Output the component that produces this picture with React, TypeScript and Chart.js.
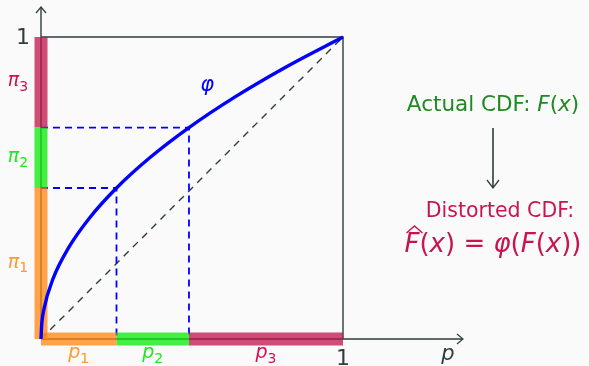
import { useEffect, useRef } from "react";
import { Chart, registerables } from "chart.js";

Chart.register(...registerables);

// Cumulative breakpoints of the probabilities p1, p2, p3 on the horizontal axis
const P_BREAKS = [0, 0.25, 0.49, 1];
// Cumulative breakpoints of the distorted weights π1, π2, π3 on the vertical axis
const PI_BREAKS = [0, 0.5, 0.7, 1];
const SEGMENT_SUBS = ["1", "2", "3"];

// Distortion function φ sampled along its curve
const PHI_X = [0, 0.0025, 0.01, 0.04, 0.09, 0.16, 0.25, 0.36, 0.49, 0.64, 0.81, 1];
const PHI_Y = [0, 0.05, 0.1, 0.2, 0.3, 0.4, 0.5, 0.6, 0.7, 0.8, 0.9, 1];

const SEGMENT_COLORS = [
  "rgba(255,133,15,0.75)",
  "rgba(8,234,8,0.75)",
  "rgba(189,19,75,0.75)",
];
const LABEL_COLORS = ["#ff9a30", "#22e622", "#cc1450"];
const AXIS_COLOR = "#2f3d3d";
const CURVE_COLOR = "#0000ff";
const GREEN_TEXT = "#1f8a1f";
const RED_TEXT = "#c81450";
const FONT = "'DejaVu Sans'";
const PHI = "\u03C6";

type Run = { text: string; font: string };

function drawRuns(ctx: CanvasRenderingContext2D, runs: Run[], cx: number, baseline: number, color: string) {
  let total = 0;
  for (const r of runs) {
    ctx.font = r.font;
    total += ctx.measureText(r.text).width;
  }
  let x = cx - total / 2;
  ctx.fillStyle = color;
  ctx.textAlign = "left";
  ctx.textBaseline = "alphabetic";
  const starts: number[] = [];
  for (const r of runs) {
    ctx.font = r.font;
    starts.push(x);
    ctx.fillText(r.text, x, baseline);
    x += ctx.measureText(r.text).width;
  }
  return starts;
}

function drawSubscripted(
  ctx: CanvasRenderingContext2D,
  base: string,
  sub: string,
  cx: number,
  baseline: number,
  size: number,
  color: string
) {
  const baseFont = `italic ${size}px ${FONT}`;
  const subFont = `${Math.round(size * 0.72)}px ${FONT}`;
  ctx.font = baseFont;
  const wb = ctx.measureText(base).width;
  ctx.font = subFont;
  const ws = ctx.measureText(sub).width;
  const x0 = cx - (wb + ws) / 2;
  ctx.fillStyle = color;
  ctx.textAlign = "left";
  ctx.textBaseline = "alphabetic";
  ctx.font = baseFont;
  ctx.fillText(base, x0, baseline);
  ctx.font = subFont;
  ctx.fillText(sub, x0 + wb, baseline + size * 0.25);
}

const decorPlugin = {
  id: "cdfDecor",
  beforeDatasetsDraw(chart: any) {
    const ctx: CanvasRenderingContext2D = chart.ctx;
    const xs = chart.scales.x;
    const ys = chart.scales.y;
    const x0 = xs.getPixelForValue(0);
    const x1 = xs.getPixelForValue(1);
    const y0 = ys.getPixelForValue(0);
    const y1 = ys.getPixelForValue(1);
    ctx.save();
    ctx.strokeStyle = AXIS_COLOR;
    ctx.lineWidth = 1.4;
    ctx.lineCap = "butt";
    // unit square frame
    ctx.beginPath();
    ctx.moveTo(x0, y1);
    ctx.lineTo(x1, y1);
    ctx.lineTo(x1, y0);
    ctx.stroke();
    // axes with open arrow heads
    const xEnd = x1 + 120;
    const yEnd = y1 - 30;
    ctx.beginPath();
    ctx.moveTo(x0, y0);
    ctx.lineTo(xEnd, y0);
    ctx.moveTo(x0, y0);
    ctx.lineTo(x0, yEnd);
    ctx.stroke();
    ctx.lineWidth = 1.2;
    ctx.beginPath();
    ctx.moveTo(xEnd - 6, y0 - 5);
    ctx.lineTo(xEnd, y0);
    ctx.lineTo(xEnd - 6, y0 + 5);
    ctx.moveTo(x0 - 5, yEnd + 6);
    ctx.lineTo(x0, yEnd);
    ctx.lineTo(x0 + 5, yEnd + 6);
    ctx.stroke();
    ctx.restore();
  },
  afterDatasetsDraw(chart: any) {
    const ctx: CanvasRenderingContext2D = chart.ctx;
    const xs = chart.scales.x;
    const ys = chart.scales.y;
    const x0 = xs.getPixelForValue(0);
    const x1 = xs.getPixelForValue(1);
    const y0 = ys.getPixelForValue(0);
    const y1 = ys.getPixelForValue(1);
    ctx.save();

    // tick "1" labels and axis name
    ctx.fillStyle = AXIS_COLOR;
    ctx.font = `22px ${FONT}`;
    ctx.textAlign = "center";
    ctx.textBaseline = "alphabetic";
    ctx.fillText("1", x0 - 18, y1 + 7);
    ctx.fillText("1", x1, y0 + 26);
    ctx.font = `italic 21px ${FONT}`;
    ctx.fillText("p", x1 + 105, y0 + 21);

    // segment labels
    for (let i = 0; i < 3; i++) {
      const cx = xs.getPixelForValue((P_BREAKS[i] + P_BREAKS[i + 1]) / 2);
      drawSubscripted(ctx, "p", SEGMENT_SUBS[i], cx, y0 + 19, 19, LABEL_COLORS[i]);
      const cy = ys.getPixelForValue((PI_BREAKS[i] + PI_BREAKS[i + 1]) / 2);
      drawSubscripted(ctx, "π", SEGMENT_SUBS[i], x0 - 23, cy + 4, 19, LABEL_COLORS[i]);
    }

    // curve name
    ctx.fillStyle = CURVE_COLOR;
    ctx.font = `italic 21px ${FONT}`;
    ctx.textAlign = "center";
    ctx.fillText(PHI, xs.getPixelForValue(0.55), ys.getPixelForValue(0.82));

    // annotation on the right
    const cx = 493;
    const mid = 21.5;
    drawRuns(
      ctx,
      [
        { text: "Actual CDF: ", font: `${mid}px ${FONT}` },
        { text: "F", font: `italic ${mid}px ${FONT}` },
        { text: "(", font: `${mid}px ${FONT}` },
        { text: "x", font: `italic ${mid}px ${FONT}` },
        { text: ")", font: `${mid}px ${FONT}` },
      ],
      cx,
      111,
      GREEN_TEXT
    );

    ctx.strokeStyle = AXIS_COLOR;
    ctx.lineWidth = 1.6;
    ctx.beginPath();
    ctx.moveTo(cx, 128);
    ctx.lineTo(cx, 188);
    ctx.stroke();
    ctx.lineWidth = 1.3;
    ctx.beginPath();
    ctx.moveTo(cx - 6, 180);
    ctx.lineTo(cx, 188);
    ctx.lineTo(cx + 6, 180);
    ctx.stroke();

    drawRuns(ctx, [{ text: "Distorted CDF:", font: `20.5px ${FONT}` }], cx + 7, 217, RED_TEXT);

    const big = 26;
    const starts = drawRuns(
      ctx,
      [
        { text: "F", font: `italic ${big}px ${FONT}` },
        { text: "(", font: `${big}px ${FONT}` },
        { text: "x", font: `italic ${big}px ${FONT}` },
        { text: ") = ", font: `${big}px ${FONT}` },
        { text: PHI, font: `italic ${big}px ${FONT}` },
        { text: "(", font: `${big}px ${FONT}` },
        { text: "F", font: `italic ${big}px ${FONT}` },
        { text: "(", font: `${big}px ${FONT}` },
        { text: "x", font: `italic ${big}px ${FONT}` },
        { text: "))", font: `${big}px ${FONT}` },
      ],
      cx,
      252,
      RED_TEXT
    );
    // hat over the first F
    const hx = starts[0];
    ctx.strokeStyle = RED_TEXT;
    ctx.lineWidth = 1.4;
    ctx.beginPath();
    ctx.moveTo(hx + 2, 233);
    ctx.lineTo(hx + 10, 226);
    ctx.lineTo(hx + 18, 233);
    ctx.stroke();

    ctx.restore();
  },
};

export default function App() {
  const canvasRef = useRef<HTMLCanvasElement | null>(null);

  useEffect(() => {
    const canvas = canvasRef.current;
    if (!canvas) return;

    const segDatasets: any[] = [];
    for (let i = 0; i < 3; i++) {
      segDatasets.push({
        data: [
          { x: P_BREAKS[i], y: 0 },
          { x: P_BREAKS[i + 1], y: 0 },
        ],
        borderColor: SEGMENT_COLORS[i],
        borderWidth: 13,
        borderCapStyle: "butt",
        order: 1,
      });
      segDatasets.push({
        data: [
          { x: 0, y: PI_BREAKS[i] },
          { x: 0, y: PI_BREAKS[i + 1] },
        ],
        borderColor: SEGMENT_COLORS[i],
        borderWidth: 13,
        borderCapStyle: "butt",
        order: 1,
      });
    }

    const guideDatasets = [1, 2].map((i) => ({
      data: [
        { x: 0, y: PI_BREAKS[i] },
        { x: P_BREAKS[i], y: PI_BREAKS[i] },
        { x: P_BREAKS[i], y: 0 },
      ],
      borderColor: CURVE_COLOR,
      borderWidth: 1.8,
      borderDash: [7, 5],
      order: 2,
    }));

    const chart = new Chart(canvas, {
      type: "scatter",
      data: {
        datasets: [
          {
            data: PHI_X.map((x, i) => ({ x, y: PHI_Y[i] })),
            borderColor: CURVE_COLOR,
            borderWidth: 3.4,
            cubicInterpolationMode: "monotone",
            order: 0,
          },
          ...segDatasets,
          ...guideDatasets,
          {
            data: [
              { x: 0, y: 0 },
              { x: 1, y: 1 },
            ],
            borderColor: AXIS_COLOR,
            borderWidth: 1.4,
            borderDash: [7, 6],
            order: 3,
          },
        ].map((d: any) => ({ showLine: true, pointRadius: 0, clip: false, ...d })),
      },
      options: {
        animation: false,
        responsive: false,
        devicePixelRatio: 1,
        layout: { padding: { left: 41, top: 37, right: 246, bottom: 27 } },
        scales: {
          x: { type: "linear", min: 0, max: 1, display: false },
          y: { type: "linear", min: 0, max: 1, display: false },
        },
        plugins: { legend: { display: false }, tooltip: { enabled: false } },
        events: [],
      },
      plugins: [decorPlugin],
    });
    return () => chart.destroy();
  }, []);

  return (
    <div style={{ position: "fixed", left: 0, top: 0, width: 589, height: 366, background: "#fafafa" }}>
      <canvas ref={canvasRef} width={589} height={366} />
    </div>
  );
}
